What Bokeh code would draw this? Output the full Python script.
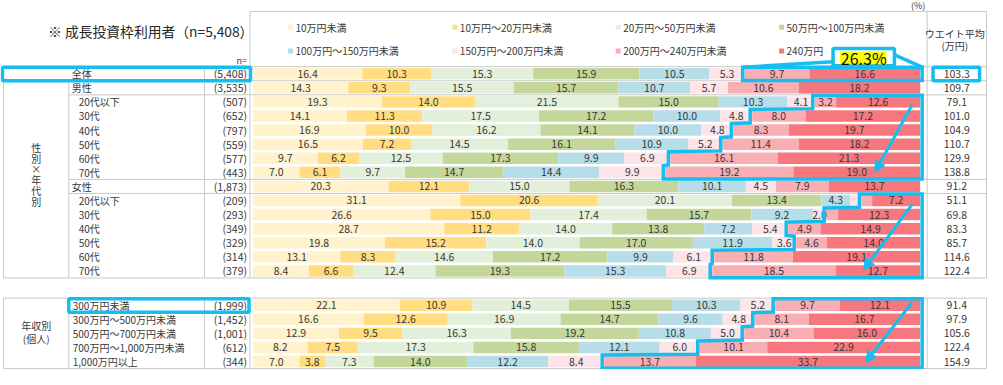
import numpy as np
from bokeh.plotting import figure
from bokeh.models import Range1d, ColumnDataSource, Arrow, NormalHead
from bokeh.embed import file_html
from bokeh.resources import INLINE
from bokeh.core.properties import value

# ---------------- data ----------------
categories = ["10万円未満", "10万円～20万円未満", "20万円～50万円未満", "50万円～100万円未満",
              "100万円～150万円未満", "150万円～200万円未満", "200万円～240万円未満", "240万円"]

row_labels = ["全体", "男性", "20代以下", "30代", "40代", "50代", "60代", "70代",
              "女性", "20代以下", "30代", "40代", "50代", "60代", "70代",
              "300万円未満", "300万円～500万円未満", "500万円～700万円未満",
              "700万円～1,000万円未満", "1,000万円以上"]
row_n = ["(5,408)", "(3,535)", "(507)", "(652)", "(797)", "(559)", "(577)", "(443)",
         "(1,873)", "(209)", "(293)", "(349)", "(329)", "(314)", "(379)",
         "(1,999)", "(1,452)", "(1,001)", "(612)", "(344)"]

lt10 = [16.4, 14.3, 19.3, 14.1, 16.9, 16.5, 9.7, 7.0, 20.3, 31.1, 26.6, 28.7, 19.8, 13.1, 8.4,
        22.1, 16.6, 12.9, 8.2, 7.0]
r10_20 = [10.3, 9.3, 14.0, 11.3, 10.0, 7.2, 6.2, 6.1, 12.1, 20.6, 15.0, 11.2, 15.2, 8.3, 6.6,
          10.9, 12.6, 9.5, 7.5, 3.8]
r20_50 = [15.3, 15.5, 21.5, 17.5, 16.2, 14.5, 12.5, 9.7, 15.0, 20.1, 17.4, 14.0, 14.0, 14.6, 12.4,
          14.5, 16.9, 16.3, 17.3, 7.3]
r50_100 = [15.9, 15.7, 15.0, 17.2, 14.1, 16.1, 17.3, 14.7, 16.3, 13.4, 15.7, 13.8, 17.0, 17.2, 19.3,
           15.5, 14.7, 19.2, 15.8, 14.0]
r100_150 = [10.5, 10.7, 10.3, 10.0, 10.0, 10.9, 9.9, 14.4, 10.1, 4.3, 9.2, 7.2, 11.9, 9.9, 15.3,
            10.3, 9.6, 10.8, 12.1, 12.2]
r150_200 = [5.3, 5.7, 4.1, 4.8, 4.8, 5.2, 6.9, 9.9, 4.5, 1.7, 2.0, 5.4, 3.6, 6.1, 6.9,
            5.2, 4.8, 5.0, 6.0, 8.4]
r200_240 = [9.7, 10.6, 3.2, 8.0, 8.3, 11.4, 16.1, 19.2, 7.9, 1.6, 1.8, 4.9, 4.6, 11.8, 18.5,
            9.7, 8.1, 10.4, 10.1, 13.7]
ge240 = [16.6, 18.2, 12.6, 17.2, 19.7, 18.2, 21.3, 19.0, 13.7, 7.2, 12.3, 14.9, 14.0, 19.1, 12.7,
         12.1, 16.7, 16.0, 22.9, 33.7]
weighted_avg = [103.3, 109.7, 79.1, 101.0, 104.9, 110.7, 129.9, 138.8, 91.2, 51.1, 69.8, 83.3,
                85.7, 114.6, 122.4, 91.4, 97.9, 105.6, 122.4, 154.9]

series = [lt10, r10_20, r20_50, r50_100, r100_150, r150_200, r200_240, ge240]
colors = ["#FFF2CC", "#FFDD80", "#E2EFDA", "#C4D79B", "#B7DDE8", "#FCE4E8", "#F9AEB4", "#F7777E"]

FONT = "Noto Sans CJK JP"
CYAN = "#14BEEF"
GRID = "#C8C8C8"
TXT = "#383838"

# ---------------- layout helpers ----------------
X0, X1 = 259.0, 933.0


def px(sx):
    return (sx - X0) / (X1 - X0) * 100.0


PITCH = 14.24
row_pos = [85 + PITCH * i for i in range(15)] + [319 + PITCH * j for j in range(5)]
n_rows = len(row_labels)

p = figure(width=987, height=369, x_range=Range1d(px(4), px(1001)), y_range=Range1d(384, 11),
           output_backend="svg", toolbar_location=None, min_border=0,
           x_axis_location=None, y_axis_location=None)
p.grid.visible = False
p.outline_line_color = None
p.background_fill_color = "white"

# ---------------- bars (100% stacked) ----------------
vals = np.array(series, dtype=float)          # shape (8, rows)
tot = vals.sum(axis=0)
norm = vals / tot * 100.0
cum = np.zeros(n_rows)
starts = []
label_sources = []
for k in range(len(series)):
    starts.append(cum.copy())
    src = ColumnDataSource(dict(y=row_pos, left=cum.copy(), right=cum + norm[k],
                                mid=cum + norm[k] / 2,
                                txt=[f"{v:.1f}" if v >= 2.0 else "" for v in vals[k]]))
    p.hbar(y="y", left="left", right="right", height=11.6, source=src,
           fill_color=colors[k], line_color=None)
    label_sources.append(src)
    cum = cum + norm[k]

# ---------------- table lines ----------------
def hline(y, x0, x1):
    p.segment(x0=[px(x0)], y0=[y], x1=[px(x1)], y1=[y], line_color=GRID, line_width=1)


def vline(x, y0, y1):
    p.segment(x0=[px(x)], y0=[y0], x1=[px(x)], y1=[y1], line_color=GRID, line_width=1)


sep = lambda i: row_pos[i] + PITCH / 2
top1 = row_pos[0] - PITCH / 2
bot1 = sep(14)
top2 = row_pos[15] - PITCH / 2
bot2 = sep(19)
hline(22, 256, 1000)
hline(top1, 7, 1000)
hline(sep(0), 7, 1000)
hline(sep(1), 73, 1000)
hline(sep(7), 73, 1000)
hline(sep(8), 73, 1000)
hline(bot1, 7, 1000)
hline(top2, 7, 1000)
hline(bot2, 7, 1000)
vline(7, top1, bot1)
vline(73, sep(0), bot1)
vline(210, top1, bot1)
for x in (256, 940, 1000):
    vline(x, 22, bot1)
for x in (7, 73, 210, 256, 940, 1000):
    vline(x, top2, bot2)

# ---------------- value labels ----------------
for src in label_sources:
    p.text(x="mid", y="y", text="txt", source=src, text_align="center", text_baseline="middle",
           text_font=value(FONT), text_font_size="10.5px", text_color=TXT)

# weighted averages
p.text(x=[px(970)] * n_rows, y=row_pos, text=[f"{v:.1f}" for v in weighted_avg],
       text_align="center", text_baseline="middle", text_font=value(FONT),
       text_font_size="10.5px", text_color=TXT)

# row labels
indent = [76, 76, 83, 83, 83, 83, 83, 83, 76, 83, 83, 83, 83, 83, 83, 77, 77, 77, 77, 77]
p.text(x=[px(v) for v in indent], y=row_pos, text=row_labels, text_align="left",
       text_baseline="middle", text_font=value(FONT), text_font_size="10px", text_color=TXT)
p.text(x=[px(253)] * n_rows, y=row_pos, text=row_n, text_align="right",
       text_baseline="middle", text_font=value(FONT), text_font_size="10.5px", text_color=TXT)

# group labels
g1 = ["性", "別", "×", "年", "代", "別"]
p.text(x=[px(40)] * len(g1), y=[159.5 + 10.9 * k for k in range(len(g1))], text=g1,
       text_align="center", text_baseline="middle", text_font=value(FONT),
       text_font_size="10px", text_color=TXT)
p.text(x=[px(40), px(40)], y=[339.5, 352.5], text=["年収別", "(個人)"],
       text_align="center", text_baseline="middle", text_font=value(FONT),
       text_font_size="10px", text_color=TXT)

# header texts
p.text(x=[px(52)], y=[42], text=["※ 成長投資枠利用者（n=5,408）"], text_align="left",
       text_baseline="middle", text_font=value(FONT), text_font_size="13.8px", text_color="#262626")
p.text(x=[px(253)], y=[72], text=["n="], text_align="right", text_baseline="middle",
       text_font=value(FONT), text_font_size="9px", text_color=TXT)
p.text(x=[px(931)], y=[16], text=["(%)"], text_align="center", text_baseline="middle",
       text_font=value(FONT), text_font_size="9px", text_color=TXT)
p.text(x=[px(968), px(968)], y=[44, 56], text=["ウエイト平均", "(万円)"], text_align="center",
       text_baseline="middle", text_font=value(FONT), text_font_size="10px", text_color=TXT)

# legend
leg_x = [297, 463, 628, 793]
leg_y = [38, 62]
for k, cat in enumerate(categories):
    lx = leg_x[k % 4]
    ly = leg_y[k // 4]
    p.scatter(x=[px(lx)], y=[ly], marker="square", size=5, fill_color=colors[k], line_color=None)
    p.text(x=[px(lx + 5)], y=[ly], text=[cat], text_align="left", text_baseline="middle",
           text_font=value(FONT), text_font_size="10px", text_color=TXT)

# ---------------- cyan highlights ----------------
start200 = starts[6]
PAD = 0.3


def stair(rows):
    lefts = [start200[r] - PAD for r in rows]
    tops = [row_pos[r] - PITCH / 2 + 0.5 for r in rows]
    bots = [row_pos[r] + PITCH / 2 - 0.3 for r in rows]
    right = 100 + PAD
    xs = [lefts[0], right, right]
    ys = [tops[0], tops[0], bots[-1]]
    for i in reversed(range(len(rows))):
        xs += [lefts[i], lefts[i]]
        ys += [bots[i], tops[i]]
    return xs, ys


for rows in ([0], list(range(2, 8)), list(range(9, 15)), list(range(15, 20))):
    xs, ys = stair(rows)
    p.patch(xs, ys, fill_color=None, line_color=CYAN, line_width=3.5, line_join="miter")

# boxes around labels
p.quad(left=[px(6)], right=[px(256.5)], top=[top1 + 0.5], bottom=[sep(0)], fill_color=None,
       line_color=CYAN, line_width=3.5)
p.quad(left=[px(946)], right=[px(993)], top=[top1 + 0.5], bottom=[sep(0)], fill_color=None,
       line_color=CYAN, line_width=3.5)
p.quad(left=[px(73)], right=[px(255)], top=[top2 + 0.5], bottom=[sep(15)], fill_color=None,
       line_color=CYAN, line_width=3.5)

# 26.3% callout
share = vals[6][0] + vals[7][0]
p.line([start200[0] - PAD, px(845)], [top1 + 0.5, 73], line_color=CYAN, line_width=3.5)
p.line([px(907), 100 + PAD], [66, top1 + 0.5], line_color=CYAN, line_width=3.5)
p.quad(left=[px(845)], right=[px(907)], top=[59.5], bottom=[77], fill_color="white",
       line_color=CYAN, line_width=3.5)
p.quad(left=[px(852)], right=[px(899)], top=[62.5], bottom=[75.5], fill_color="#FFFF00",
       line_color=None)
p.text(x=[px(876)], y=[69.5], text=[f"{share:.1f}%"], text_align="center",
       text_baseline="middle", text_font=value(FONT), text_font_size="16px", text_color="#111111")

# arrows
arrow_specs = [(98.8, row_pos[2] + 3, 93.2, row_pos[7]),
               (98.8, row_pos[9] + 4, 91.5, row_pos[14] - 1),
               (98.8, row_pos[15] - 3, 91.8, row_pos[19] + 1)]
for xs_, ys_, xe_, ye_ in arrow_specs:
    p.add_layout(Arrow(x_start=xs_, y_start=ys_, x_end=xe_, y_end=ye_, line_color=CYAN,
                       line_width=3,
                       end=NormalHead(size=11, fill_color=CYAN, line_color=CYAN)))

open("out.html", "w").write(file_html(p, INLINE))
